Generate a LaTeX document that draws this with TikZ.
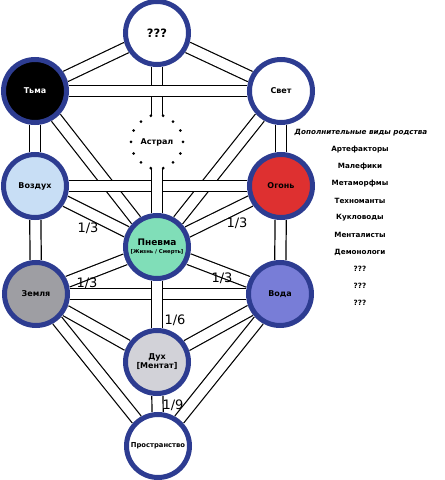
\documentclass[tikz,border=0pt]{standalone}
\usepackage{fontspec}
\setmainfont{DejaVu Sans}
\usetikzlibrary{backgrounds}
\definecolor{treeblue}{RGB}{45,60,145}
\definecolor{airfill}{RGB}{200,222,245}
\definecolor{firefill}{RGB}{222,48,48}
\definecolor{pneumafill}{RGB}{128,222,184}
\definecolor{earthfill}{RGB}{158,158,163}
\definecolor{waterfill}{RGB}{120,125,215}
\definecolor{spiritfill}{RGB}{210,210,216}
\tikzset{
  tree-node/.style={circle, draw=treeblue, line width=5pt, minimum size=63pt, inner sep=0pt,
    align=center, font=\bfseries\fontsize{8}{9}\selectfont},
  tree-channel/.style={draw=black, line width=1.2pt, double=white, double distance=10pt},
  tree-ratio/.style={font=\fontsize{13}{13}\selectfont, inner sep=0pt},
  tree-kin/.style={font=\bfseries\fontsize{7.2}{8}\selectfont, inner sep=0pt}
}

\begin{document}
\begin{tikzpicture}[x=1pt, y=1pt]
  \useasboundingbox (0,0) rectangle (445,480);

  % Top of the tree
  \node[tree-node, fill=white, font=\bfseries\fontsize{11.5}{12}\selectfont] (unknown) at (157,447) {???};
  \node[tree-node, fill=black, text=white] (dark) at (35,389) {Тьма};
  \node[tree-node, fill=white] (light) at (281,389) {Свет};

  % Astral ring
  \node[circle, minimum size=52pt, inner sep=0pt, font=\bfseries\fontsize{8}{9}\selectfont] (astral) at (157,338) {Астрал};
  \foreach \a in {-52,-26,0,26,52,128,154,180,206,232}
    \fill (astral.center) ++(\a:26) circle (1.5);

  % Elements
  \node[tree-node, fill=airfill] (air) at (35,294) {Воздух};
  \node[tree-node, fill=firefill] (fire) at (281,294) {Огонь};
  \node[tree-node, fill=pneumafill] (pneuma) at (157,233)
    {\fontsize{9}{10}\selectfont Пневма\\[-1pt]{\fontsize{5.3}{6}\selectfont [Жизнь / Смерть]}};
  \node[tree-node, fill=earthfill] (earth) at (36,186) {Земля};
  \node[tree-node, fill=waterfill] (water) at (280,186) {Вода};
  \node[tree-node, fill=spiritfill] (spirit) at (157,118) {Дух\\{[Ментат]}};
  \node[tree-node, fill=white, font=\bfseries\fontsize{6.8}{8}\selectfont] (space) at (158,34) {Пространство};

  % Channels
  \begin{scope}[on background layer]
    \draw[tree-channel] (unknown) -- (dark);
    \draw[tree-channel] (unknown) -- (light);
    \draw[tree-channel] (unknown) -- (astral.north);
    \draw[tree-channel] (dark) -- (light);
    \draw[tree-channel] (dark) -- (air);
    \draw[tree-channel] (light) -- (fire);
    \draw[tree-channel] (dark) -- (pneuma);
    \draw[tree-channel] (light) -- (pneuma);
    \draw[tree-channel] (air) -- (fire);
    \draw[tree-channel] (air) -- (pneuma);
    \draw[tree-channel] (fire) -- (pneuma);
    \draw[tree-channel] (air) -- (earth);
    \draw[tree-channel] (fire) -- (water);
    \draw[tree-channel] (earth) -- (pneuma);
    \draw[tree-channel] (water) -- (pneuma);
    \draw[tree-channel] (earth) -- (water);
    \draw[tree-channel] (pneuma) -- (astral.south);
    \draw[tree-channel] (pneuma) -- (spirit);
    \draw[tree-channel] (earth) -- (spirit);
    \draw[tree-channel] (water) -- (spirit);
    \draw[tree-channel] (earth) -- (space);
    \draw[tree-channel] (water) -- (space);
    \draw[tree-channel] (spirit) -- (space);
  \end{scope}
  \fill ([xshift=-6.2pt]astral.north) circle (1.5);
  \fill ([xshift=6.2pt]astral.north) circle (1.5);
  \fill ([xshift=-6.2pt]astral.south) circle (1.5);
  \fill ([xshift=6.2pt]astral.south) circle (1.5);

  % Ratios
  \node[tree-ratio] (r-air) at (88,252) {1/3};
  \node[tree-ratio] (r-fire) at (237,257) {1/3};
  \node[tree-ratio] (r-earth) at (87,197) {1/3};
  \node[tree-ratio] (r-water) at (222,202) {1/3};
  \node[tree-ratio] (r-spirit) at (175,160) {1/6};
  \node[tree-ratio] (r-space) at (173,75) {1/9};

  % Kinship list
  \node[tree-kin, font=\bfseries\itshape\fontsize{7.2}{8}\selectfont] (kin-head) at (361,347) {Дополнительные виды родства};
  \node[tree-kin] (kin-art) at (360,330) {Артефакторы};
  \node[tree-kin] (kin-mal) at (360,313) {Малефики};
  \node[tree-kin] (kin-met) at (360,296) {Метаморфмы};
  \node[tree-kin] (kin-tech) at (360,279) {Техноманты};
  \node[tree-kin] (kin-pup) at (360,262) {Кукловоды};
  \node[tree-kin] (kin-ment) at (360,245) {Менталисты};
  \node[tree-kin] (kin-dem) at (360,228) {Демонологи};
  \node[tree-kin] (kin-q1) at (360,211) {???};
  \node[tree-kin] (kin-q2) at (360,194) {???};
  \node[tree-kin] (kin-q3) at (360,177) {???};
\end{tikzpicture}
\end{document}
